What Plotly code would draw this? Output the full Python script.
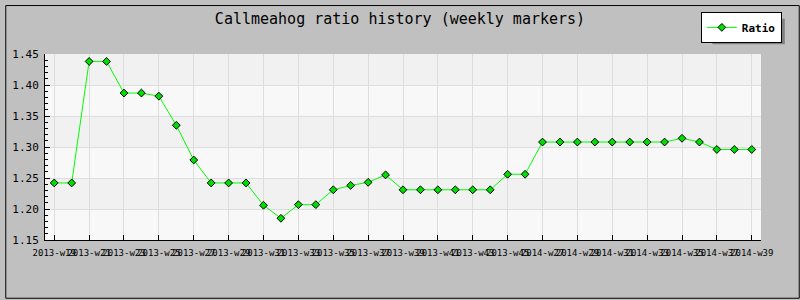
import plotly.graph_objects as go

# ---- data ----
weeks = [f"2013-w{w}" for w in range(19, 47)] + [f"2014-w{w}" for w in range(27, 40)]
ratio = [1.242, 1.242, 1.438, 1.438, 1.387, 1.387, 1.382, 1.335, 1.279,
         1.242, 1.242, 1.242, 1.206, 1.185,
         1.207, 1.207, 1.231, 1.238, 1.243, 1.255,
         1.231, 1.231, 1.231, 1.231, 1.231, 1.231, 1.256, 1.256,
         1.308, 1.308, 1.308, 1.308, 1.308, 1.308, 1.308, 1.308,
         1.314, 1.308, 1.296, 1.296, 1.296]
tick_weeks = weeks[::2]
y_bands = [1.15, 1.20, 1.25, 1.30, 1.35, 1.40, 1.45]

W, H = 800, 300
L, R, T, B = 40, 39, 50, 60
pw, ph = W - L - R, H - T - B

def px(x):
    return (x - L) / pw

def py(y):
    return (H - B - y) / ph

fig = go.Figure()
fig.add_trace(go.Scatter(
    x=weeks, y=ratio, name="Ratio", mode="lines+markers",
    line=dict(color="#00ff00", width=1),
    marker=dict(symbol="diamond", size=6, color="#00dd00",
                line=dict(color="black", width=1)),
))

shapes = []
band_colors = ["#f8f8f8", "#f1f1f1"]
for i in range(len(y_bands) - 1):
    shapes.append(dict(type="rect", xref="paper", yref="y", x0=0, x1=1,
                       y0=y_bands[i], y1=y_bands[i + 1],
                       fillcolor=band_colors[i % 2], line=dict(width=0),
                       layer="below"))
# outer frame
shapes.append(dict(type="rect", xref="paper", yref="paper",
                   x0=px(0.5), x1=px(W - 0.5), y0=py(H - 0.5), y1=py(0.5),
                   line=dict(color="black", width=1), fillcolor="rgba(0,0,0,0)",
                   layer="above"))
# legend shadow (legend box is drawn on top of it)
shapes.append(dict(type="rect", xref="paper", yref="paper",
                   x0=px(712), x1=px(785), y0=py(40), y1=py(14),
                   line=dict(width=0), fillcolor="#808080", layer="above"))

fig.update_layout(
    width=W, height=H,
    margin=dict(l=L, r=R, t=T, b=B, pad=0),
    paper_bgcolor="#c0c0c0",
    plot_bgcolor="#f8f8f8",
    title=dict(text="Callmeahog ratio history (weekly markers)",
               x=0.5, xanchor="center", y=1 - 19 / H, yanchor="middle",
               font=dict(family="DejaVu Sans Mono", size=15, color="black")),
    showlegend=True,
    legend=dict(x=px(782), xanchor="right", y=py(7), yanchor="top",
                bgcolor="white", bordercolor="black", borderwidth=1,
                font=dict(family="DejaVu Sans Mono", size=11, color="black",
                          weight="bold"),
                itemwidth=30, tracegroupgap=0),
    shapes=shapes,
    xaxis=dict(type="category", range=[-0.53, len(weeks) - 1 + 0.53],
               tickmode="array", tickvals=tick_weeks, ticktext=tick_weeks,
               tickangle=0, ticks="inside", ticklen=5, tickcolor="black",
               showline=True, linecolor="black", linewidth=1,
               showgrid=True, gridcolor="#dddddd", gridwidth=1,
               zeroline=False, ticklabelstandoff=4,
               tickfont=dict(family="DejaVu Sans Mono", size=9, color="black")),
    yaxis=dict(range=[1.15, 1.45], dtick=0.05, tick0=1.15, tickformat=".2f",
               ticks="inside", ticklen=5, tickcolor="black",
               minor=dict(dtick=0.01, ticks="inside", ticklen=3,
                          tickcolor="black", showgrid=False),
               showline=True, linecolor="black", linewidth=1,
               showgrid=True, gridcolor="#dddddd", gridwidth=1,
               zeroline=False, ticklabelstandoff=3,
               tickfont=dict(family="DejaVu Sans Mono", size=11, color="black")),
)

fig.write_html("out.html")
